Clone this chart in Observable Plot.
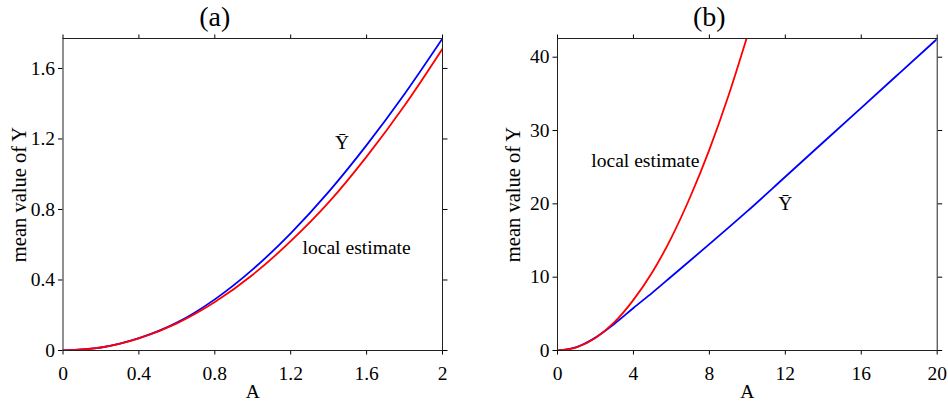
<!DOCTYPE html>
<html>
<head>
<meta charset="utf-8">
<script src="https://cdn.jsdelivr.net/npm/d3@7"></script>
<script src="https://cdn.jsdelivr.net/npm/@observablehq/plot@0.6"></script>
<style>
  html, body { margin: 0; padding: 0; background: white; }
  #wrap { display: flex; width: 948px; height: 403px; }
</style>
</head>
<body>
<div id="wrap"></div>
<script>
// ---- Panel (a) data ----
const A_a = [0, 0.2, 0.4, 0.6, 0.8, 1.0, 1.2, 1.4, 1.6, 1.8, 2.0];
const Ybar_a = [0, 0.017, 0.070, 0.158, 0.29, 0.46, 0.665, 0.90, 1.165, 1.455, 1.77];
const local_a = [0, 0.017, 0.069, 0.154, 0.275, 0.43, 0.62, 0.84, 1.10, 1.39, 1.712];
const xTicks_a = [0, 0.4, 0.8, 1.2, 1.6, 2];
const yTicks_a = [0, 0.4, 0.8, 1.2, 1.6];
const xTickLabels_a = ["0", "0.4", "0.8", "1.2", "1.6", "2"];
const yTickLabels_a = ["0", "0.4", "0.8", "1.2", "1.6"];

// ---- Panel (b) data ----
const A_b_bar = [0, 1, 2, 3, 4, 5, 6, 8, 10, 12, 14, 16, 18, 20];
const Ybar_b = [0, 0.46, 1.77, 3.65, 5.8, 7.9, 10.1, 14.5, 19.0, 23.7, 28.4, 33.1, 37.8, 42.5];
const A_b_local = [0, 1, 2, 3, 4, 5, 6, 7, 8, 9, 10];
const local_b = [0, 0.43, 1.71, 3.86, 6.9, 10.7, 15.4, 21.0, 27.4, 34.7, 42.9];
const xTicks_b = [0, 4, 8, 12, 16, 20];
const yTicks_b = [0, 10, 20, 30, 40];

// labels
const titles = ["(a)", "(b)"];
const xLabel = "A";
const yLabel = "mean value of Y";
const barLabel = "\u0232"; // Y with macron
const localLabel = "local estimate";
const barLabelPos_a = [1.47, 1.18];
const localLabelPos_a = [1.262, 0.584];
const barLabelPos_b = [12, 20];
const localLabelPos_b = [1.775, 25.9];

const FONT = "'Liberation Serif', 'Times New Roman', serif";

function panel(opts) {
  const blue = opts.Abar.map((a, i) => ({A: a, v: opts.bar[i]}));
  const red = opts.Alocal.map((a, i) => ({A: a, v: opts.local[i]}));
  const fmtX = d => opts.xLabels ? opts.xLabels[opts.xTicks.indexOf(d)] : String(d);
  const fmtY = d => opts.yLabels ? opts.yLabels[opts.yTicks.indexOf(d)] : String(d);
  return Plot.plot({
    width: 474,
    height: 403,
    marginLeft: opts.ml,
    marginRight: opts.mr,
    marginTop: 38,
    marginBottom: 53,
    style: {fontFamily: FONT, fontSize: "19.5px", background: "white", color: "black", overflow: "visible"},
    x: {domain: opts.xDomain},
    y: {domain: opts.yDomain},
    marks: [
      Plot.axisX({anchor: "bottom", ticks: opts.xTicks, tickSize: 4.5, tickPadding: 11.5, tickFormat: fmtX, label: null, fontSize: 19.5}),
      Plot.axisX({anchor: "top", ticks: opts.xTicks, tickSize: 4.5, tickFormat: () => "", label: null}),
      Plot.axisY({anchor: "left", ticks: opts.yTicks, tickSize: 4.5, tickPadding: 3.5, tickFormat: fmtY, label: null, fontSize: 19.5}),
      Plot.axisY({anchor: "right", ticks: opts.yTicks, tickSize: 4.5, tickFormat: () => "", label: null}),
      Plot.line(blue, {x: "A", y: "v", stroke: "#0000ff", strokeWidth: 1.8, curve: "monotone-x", clip: true}),
      Plot.line(red, {x: "A", y: "v", stroke: "#ff0000", strokeWidth: 1.8, curve: "monotone-x", clip: true}),
      Plot.frame({stroke: "#222", strokeWidth: 1}),
      Plot.text([opts.barPos], {x: d => d[0], y: d => d[1], text: () => barLabel, fontSize: 19.5, lineAnchor: "middle", textAnchor: "middle", fill: "black"}),
      Plot.text([opts.localPos], {x: d => d[0], y: d => d[1], text: () => localLabel, fontSize: 19.6, lineAnchor: "middle", textAnchor: "start", fill: "black"}),
      Plot.text([opts.title], {frameAnchor: "top", text: d => d, dy: -21.5, dx: -38, fontSize: 28, lineAnchor: "middle", fill: "black"}),
      Plot.text([xLabel], {frameAnchor: "bottom", text: d => d, dy: 41.5, fontSize: 19.5, lineAnchor: "middle", fill: "black"}),
      Plot.text([yLabel], {frameAnchor: "left", text: d => d, dx: -44, rotate: -90, fontSize: 20.5, lineAnchor: "middle", textAnchor: "middle", fill: "black"})
    ]
  });
}

const wrap = document.getElementById("wrap");
wrap.appendChild(panel({
  ml: 62.5, mr: 32,
  xDomain: [0, 2], yDomain: [0, 1.77],
  xTicks: xTicks_a, yTicks: yTicks_a, xLabels: xTickLabels_a, yLabels: yTickLabels_a,
  Abar: A_a, bar: Ybar_a, Alocal: A_a, local: local_a,
  barPos: barLabelPos_a, localPos: localLabelPos_a, title: titles[0]
}));
wrap.appendChild(panel({
  ml: 83, mr: 11.3,
  xDomain: [0, 20], yDomain: [0, 42.55],
  xTicks: xTicks_b, yTicks: yTicks_b,
  Abar: A_b_bar, bar: Ybar_b, Alocal: A_b_local, local: local_b,
  barPos: barLabelPos_b, localPos: localLabelPos_b, title: titles[1]
}));
</script>
</body>
</html>
